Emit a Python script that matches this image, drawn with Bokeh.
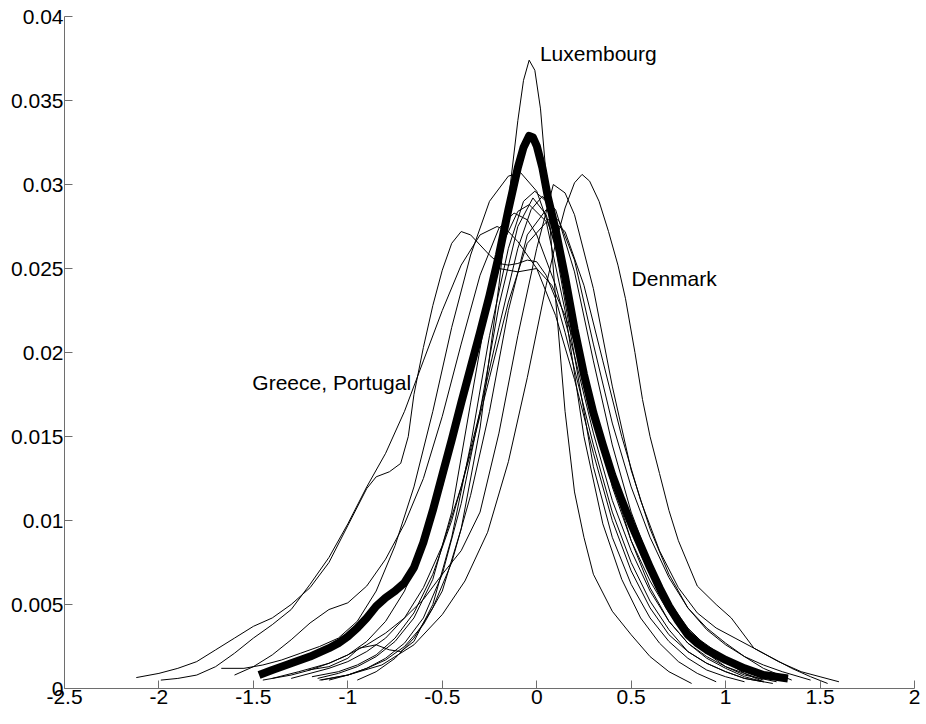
from bokeh.plotting import figure
from bokeh.models import Range1d, FixedTicker, ColumnDataSource
from bokeh.core.properties import value
from bokeh.embed import file_html
from bokeh.resources import INLINE

# ---------------- data ----------------
xticks = [-2.5, -2.0, -1.5, -1.0, -0.5, 0.0, 0.5, 1.0, 1.5, 2.0]
xtick_labels = ["-2.5", "-2", "-1.5", "-1", "-0.5", "0", "0.5", "1", "1.5", "2"]
yticks = [0.0, 0.005, 0.01, 0.015, 0.02, 0.025, 0.03, 0.035, 0.04]
ytick_labels = ["0", "0.005", "0.01", "0.015", "0.02", "0.025", "0.03", "0.035", "0.04"]

greece_x = [-2.12, -2.0, -1.9, -1.8, -1.7, -1.6, -1.5, -1.4, -1.3, -1.2, -1.1, -1.0, -0.9, -0.85, -0.78,
            -0.72, -0.68, -0.65, -0.6, -0.55, -0.5, -0.45, -0.4, -0.35, -0.3, -0.25, -0.2, -0.15, -0.1, -0.05,
            0.0, 0.05, 0.1, 0.15, 0.2, 0.3, 0.4, 0.5, 0.6, 0.7, 0.8, 0.9, 1.0, 1.1, 1.2]
greece_y = [0.00065, 0.0009, 0.0012, 0.0016, 0.0023, 0.0030, 0.0037, 0.0042, 0.0050, 0.0060, 0.0075, 0.0097,
            0.0119, 0.0126, 0.0129, 0.0134, 0.0150, 0.0175, 0.0203, 0.0228, 0.0249, 0.0265, 0.0272, 0.0270,
            0.0264, 0.0258, 0.0253, 0.0252, 0.0253, 0.0255, 0.0254, 0.0246, 0.0232, 0.0212, 0.0190, 0.0145,
            0.0105, 0.0075, 0.0052, 0.0035, 0.0022, 0.0015, 0.0010, 0.0006, 0.0004]

portugal_x = [-1.99, -1.9, -1.8, -1.7, -1.6, -1.5, -1.4, -1.3, -1.2, -1.1, -1.0, -0.9, -0.8, -0.7, -0.6,
              -0.5, -0.4, -0.3, -0.21, -0.15, -0.1, 0.0, 0.1, 0.2, 0.3, 0.4, 0.5, 0.6, 0.7, 0.8, 0.9, 1.0,
              1.1, 1.25]
portugal_y = [0.0005, 0.0006, 0.0008, 0.0013, 0.0021, 0.0030, 0.0038, 0.0047, 0.0062, 0.0078, 0.0098,
              0.0120, 0.0140, 0.0165, 0.0195, 0.0225, 0.0252, 0.0270, 0.0275, 0.0272, 0.0266, 0.0250,
              0.0222, 0.0184, 0.0140, 0.0100, 0.0070, 0.0048, 0.0032, 0.0022, 0.0015, 0.0010, 0.0006, 0.0003]

luxembourg_x = [-1.15, -1.0, -0.9, -0.8, -0.7, -0.6, -0.5, -0.4, -0.3, -0.2, -0.15, -0.1, -0.07, -0.04,
                -0.01, 0.02, 0.05, 0.1, 0.15, 0.2, 0.25, 0.3, 0.4, 0.5, 0.6, 0.7, 0.82]
luxembourg_y = [0.0005, 0.0008, 0.0012, 0.0017, 0.0025, 0.0038, 0.0058, 0.0095, 0.0155, 0.0240, 0.0290,
                0.0338, 0.0362, 0.0374, 0.0368, 0.0345, 0.0305, 0.0232, 0.0165, 0.0117, 0.0090, 0.0068,
                0.0046, 0.0032, 0.0019, 0.0010, 0.0003]

denmark_x = [-1.14, -1.0, -0.82, -0.65, -0.5, -0.38, -0.26, -0.15, -0.05, 0.05, 0.1, 0.15, 0.2, 0.24,
             0.28, 0.33, 0.38, 0.43, 0.47, 0.52, 0.56, 0.6, 0.65, 0.7, 0.75, 0.85, 0.95, 1.03, 1.15, 1.28,
             1.4, 1.5, 1.6]
denmark_y = [0.0005, 0.0008, 0.0014, 0.0026, 0.0044, 0.0064, 0.0093, 0.0135, 0.0185, 0.0240, 0.0265,
             0.0286, 0.0301, 0.0306, 0.0302, 0.0290, 0.0272, 0.0252, 0.0232, 0.0200, 0.0172, 0.0150,
             0.0128, 0.0106, 0.0088, 0.0061, 0.0050, 0.0042, 0.0024, 0.0016, 0.0010, 0.0007, 0.0004]

spain_x = [-1.6, -1.5, -1.4, -1.3, -1.2, -1.1, -1.0, -0.9, -0.8, -0.7, -0.6, -0.5, -0.4, -0.3, -0.2,
           -0.12, -0.05, 0.0, 0.1, 0.2, 0.3, 0.4, 0.5, 0.6, 0.7, 0.8, 0.9, 1.0, 1.1, 1.2]
spain_y = [0.0008, 0.0013, 0.0020, 0.0029, 0.0039, 0.0047, 0.0051, 0.0061, 0.0077, 0.0098, 0.0125,
           0.0162, 0.0205, 0.0246, 0.0274, 0.0283, 0.0279, 0.0270, 0.0240, 0.0198, 0.0152, 0.0112,
           0.0082, 0.0058, 0.0040, 0.0027, 0.0018, 0.0012, 0.0007, 0.0004]

italy_x = [-1.67, -1.55, -1.45, -1.35, -1.25, -1.15, -1.05, -0.95, -0.85, -0.75, -0.65, -0.55, -0.45,
           -0.35, -0.25, -0.15, -0.085, 0.0, 0.1, 0.2, 0.3, 0.4, 0.5, 0.6, 0.7, 0.8, 0.9, 1.0, 1.1, 1.2]
italy_y = [0.0012, 0.0012, 0.0014, 0.0017, 0.0021, 0.0025, 0.0030, 0.0040, 0.0058, 0.0085, 0.0120,
           0.0165, 0.0215, 0.0258, 0.0290, 0.0305, 0.0307, 0.0296, 0.0264, 0.0218, 0.0168, 0.0124,
           0.0088, 0.0060, 0.0040, 0.0027, 0.0019, 0.0013, 0.0009, 0.0005]

sweden_x = [-1.4, -1.26, -1.1, -1.0, -0.9, -0.8, -0.7, -0.6, -0.5, -0.4, -0.3, -0.2, -0.1, 0.0, 0.088,
            0.15, 0.2, 0.3, 0.4, 0.5, 0.6, 0.7, 0.8, 0.9, 1.0, 1.1, 1.2, 1.3, 1.45]
sweden_y = [0.0006, 0.0010, 0.0015, 0.0020, 0.0026, 0.0033, 0.0042, 0.0053, 0.0068, 0.0082, 0.0105,
            0.0152, 0.0210, 0.0262, 0.0300, 0.0295, 0.0282, 0.0238, 0.0180, 0.0130, 0.0095, 0.0068,
            0.0048, 0.0035, 0.0026, 0.0019, 0.0014, 0.0010, 0.0005]

france_x = [-1.21, -1.1, -1.0, -0.94, -0.85, -0.78, -0.72, -0.65, -0.55, -0.45, -0.35, -0.25, -0.15,
            -0.07, -0.01, 0.05, 0.12, 0.2, 0.3, 0.4, 0.5, 0.6, 0.7, 0.8, 0.9, 1.0, 1.1, 1.27]
france_y = [0.0011, 0.0013, 0.0018, 0.0024, 0.0026, 0.0023, 0.0022, 0.0028, 0.0050, 0.0090, 0.0145,
            0.0210, 0.0262, 0.0290, 0.0296, 0.0290, 0.0265, 0.0222, 0.0165, 0.0120, 0.0088, 0.0064,
            0.0045, 0.0031, 0.0021, 0.0013, 0.0008, 0.0004]

finland_x = [-1.19, -1.05, -0.95, -0.85, -0.75, -0.65, -0.55, -0.45, -0.35, -0.25, -0.15, -0.05, 0.07,
             0.15, 0.25, 0.35, 0.45, 0.55, 0.65, 0.75, 0.85, 0.95, 1.05, 1.15, 1.25, 1.35, 1.45, 1.54]
finland_y = [0.0007, 0.0010, 0.0014, 0.0020, 0.0030, 0.0045, 0.0068, 0.0100, 0.0140, 0.0185, 0.0230,
             0.0265, 0.0280, 0.0272, 0.0240, 0.0195, 0.0150, 0.0112, 0.0082, 0.0060, 0.0045, 0.0036,
             0.0030, 0.0024, 0.0018, 0.0012, 0.0007, 0.0003]

ireland_x = [-1.16, -1.05, -0.95, -0.85, -0.75, -0.65, -0.55, -0.45, -0.35, -0.28, -0.2, -0.1, 0.0, 0.08,
             0.15, 0.25, 0.35, 0.45, 0.55, 0.65, 0.75, 0.85, 0.95, 1.05, 1.15, 1.3]
ireland_y = [0.0006, 0.0009, 0.0013, 0.0019, 0.0028, 0.0042, 0.0065, 0.0105, 0.0170, 0.0215, 0.0250,
             0.0248, 0.0250, 0.0240, 0.0222, 0.0190, 0.0150, 0.0112, 0.0080, 0.0056, 0.0040, 0.0030,
             0.0022, 0.0015, 0.0010, 0.0005]

belgium_x = [-1.1, -1.0, -0.9, -0.8, -0.7, -0.6, -0.5, -0.4, -0.3, -0.2, -0.1, -0.02, 0.05, 0.1, 0.2,
             0.3, 0.4, 0.5, 0.6, 0.7, 0.8, 0.9, 1.0, 1.1]
belgium_y = [0.0005, 0.0008, 0.0012, 0.0018, 0.0027, 0.0042, 0.0068, 0.0110, 0.0165, 0.0228, 0.0275,
             0.0292, 0.0282, 0.0262, 0.0198, 0.0132, 0.0090, 0.0062, 0.0042, 0.0028, 0.0018, 0.0011,
             0.0007, 0.0004]

austria_x = [-1.45, -1.3, -1.2, -1.1, -1.0, -0.9, -0.8, -0.7, -0.6, -0.5, -0.4, -0.3, -0.2, -0.1, -0.04,
             0.05, 0.15, 0.25, 0.35, 0.45, 0.55, 0.65, 0.75, 0.85, 0.95]
austria_y = [0.0005, 0.0008, 0.0011, 0.0015, 0.0020, 0.0028, 0.0040, 0.0058, 0.0085, 0.0120, 0.0165,
             0.0215, 0.0260, 0.0284, 0.0288, 0.0278, 0.0225, 0.0150, 0.0098, 0.0065, 0.0042, 0.0027,
             0.0016, 0.0009, 0.0004]

germany_x = [-1.3, -1.2, -1.1, -1.0, -0.9, -0.8, -0.7, -0.6, -0.5, -0.4, -0.3, -0.2, -0.1, -0.03, 0.03,
             0.1, 0.2, 0.3, 0.4, 0.5, 0.6, 0.7, 0.8, 0.9, 1.0, 1.1, 1.2]
germany_y = [0.0006, 0.0009, 0.0012, 0.0016, 0.0022, 0.0030, 0.0042, 0.0060, 0.0085, 0.0120, 0.0165,
             0.0215, 0.0262, 0.0285, 0.0293, 0.0285, 0.0248, 0.0195, 0.0145, 0.0105, 0.0075, 0.0052,
             0.0036, 0.0025, 0.0016, 0.0009, 0.0004]

netherlands_x = [-0.95, -0.85, -0.75, -0.65, -0.55, -0.45, -0.35, -0.25, -0.15, -0.05, 0.05, 0.12, 0.2,
                 0.3, 0.4, 0.5, 0.6, 0.7, 0.8, 0.9, 1.0, 1.1, 1.2, 1.35]
netherlands_y = [0.0005, 0.0010, 0.0018, 0.0030, 0.0048, 0.0075, 0.0115, 0.0165, 0.0225, 0.0270, 0.0285,
                 0.0278, 0.0255, 0.0205, 0.0158, 0.0120, 0.0090, 0.0066, 0.0048, 0.0036, 0.0027, 0.0019,
                 0.0012, 0.0005]

mean_x = [-1.47, -1.4, -1.3, -1.2, -1.1, -1.05, -1.0, -0.95, -0.9, -0.85, -0.8, -0.75, -0.7, -0.65, -0.6,
          -0.55, -0.5, -0.45, -0.4, -0.35, -0.3, -0.25, -0.2, -0.15, -0.1, -0.07, -0.04, -0.02, 0.0, 0.03,
          0.06, 0.1, 0.15, 0.2, 0.25, 0.3, 0.35, 0.4, 0.45, 0.5, 0.55, 0.6, 0.65, 0.7, 0.75, 0.8, 0.85,
          0.9, 0.95, 1.0, 1.1, 1.2, 1.33]
mean_y = [0.0008, 0.0011, 0.0015, 0.0019, 0.0024, 0.0027, 0.0031, 0.0036, 0.0042, 0.0049, 0.0054, 0.0058,
          0.0063, 0.0072, 0.0087, 0.0106, 0.0127, 0.0148, 0.0170, 0.0191, 0.0212, 0.0234, 0.0258, 0.0285,
          0.0310, 0.0322, 0.0329, 0.0328, 0.0323, 0.0310, 0.0292, 0.0273, 0.0245, 0.0214, 0.0187, 0.0164,
          0.0145, 0.0127, 0.0112, 0.0098, 0.0085, 0.0072, 0.0060, 0.0049, 0.0040, 0.0032, 0.0027, 0.0023,
          0.0020, 0.0017, 0.0012, 0.0008, 0.0006]

label_text = ["Luxembourg", "Denmark", "Greece, Portugal"]
label_x = [0.017, 0.502, -0.665]
label_y = [0.0378, 0.0244, 0.0182]
label_align = ["left", "left", "right"]

countries = [
    (greece_x, greece_y), (portugal_x, portugal_y), (luxembourg_x, luxembourg_y),
    (denmark_x, denmark_y), (spain_x, spain_y), (italy_x, italy_y), (sweden_x, sweden_y),
    (france_x, france_y), (finland_x, finland_y), (ireland_x, ireland_y), (belgium_x, belgium_y),
    (austria_x, austria_y), (germany_x, germany_y), (netherlands_x, netherlands_y),
]

# ---------------- figure ----------------
FONT = "Liberation Sans"
p = figure(width=922, height=714, output_backend="svg", toolbar_location=None,
           x_range=Range1d(-2.5, 2.0), y_range=Range1d(0, 0.04),
           min_border_left=64, min_border_right=8, min_border_top=16, min_border_bottom=26)
p.outline_line_color = None
p.grid.visible = False
p.background_fill_color = "white"
p.border_fill_color = "white"

for ax in (p.xaxis[0], p.yaxis[0]):
    ax.axis_line_color = "#6e6e6e"
    ax.major_tick_line_color = "#6e6e6e"
    ax.major_tick_in = 8
    ax.major_tick_out = 0
    ax.minor_tick_line_color = None
    ax.major_label_text_font = FONT
    ax.major_label_text_font_size = "21px"
    ax.major_label_text_color = "black"
    ax.major_label_standoff = 1

p.xaxis.ticker = FixedTicker(ticks=xticks)
p.yaxis.ticker = FixedTicker(ticks=yticks)
p.xaxis.major_label_overrides = {t: s for t, s in zip(xticks, xtick_labels)}
p.yaxis.major_label_overrides = {t: s for t, s in zip(yticks, ytick_labels)}

for xs, ys in countries:
    p.line(xs, ys, line_color="black", line_width=1)

p.line(mean_x, mean_y, line_color="black", line_width=8, line_join="round")

src = ColumnDataSource(dict(x=label_x, y=label_y, text=label_text, align=label_align))
p.text(x="x", y="y", text="text", text_align="align", text_baseline="middle", source=src,
       text_font=value(FONT), text_font_size="21px", text_color="black")

open("out.html", "w").write(file_html(p, INLINE))
